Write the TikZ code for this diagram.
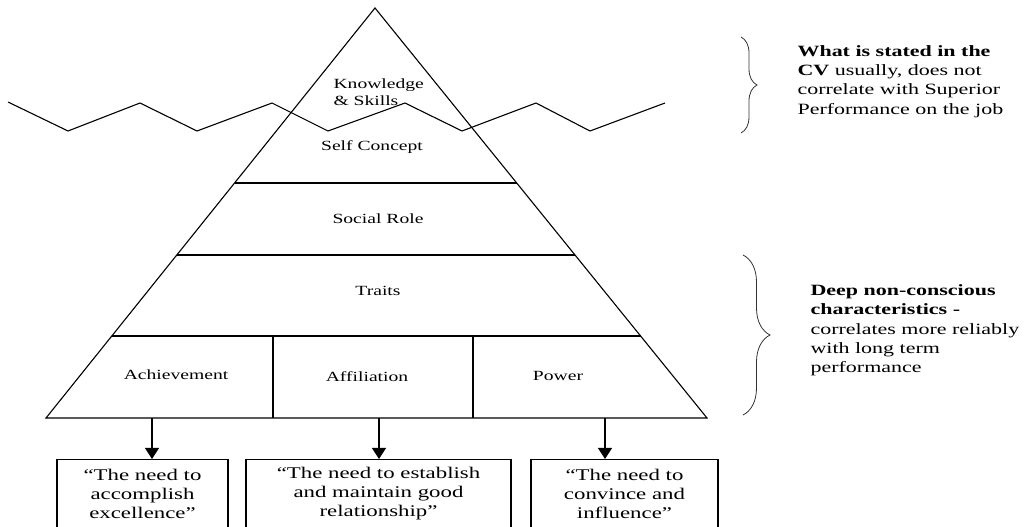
\documentclass[tikz,border=0pt]{standalone}
\usepackage{fontspec}
\setmainfont{Liberation Serif}[FakeStretch=1.4]
\usepackage{tikz}
\usetikzlibrary{arrows.meta,calc,decorations.pathreplacing}
\tikzset{
	lvl_txt/.style = {align=center, inner sep=0pt,
		font=\fontsize{14}{17}\selectfont},
	need_box/.style = {rectangle, draw=black, align=center, inner sep=0pt,
		minimum height=69pt, font=\fontsize{16.3}{19}\selectfont},
	side_txt/.style = {anchor=west, align=left, inner sep=0pt,
		font=\fontsize{15.7}{19.3}\selectfont},
	brc/.style = {decorate, line width=0.8pt, draw=black!80}
}

\begin{document}
\begin{tikzpicture}[x=1pt,y=-1pt,line width=1.1pt,
	>={Triangle[length=11pt,width=14pt]}]
\useasboundingbox (0,0) rectangle (1026,527);
% pyramid
\coordinate (top) at (375,8);
\coordinate (bl) at (46,418);
\coordinate (br) at (707,418);
\draw (bl) -- (top) -- (br) -- cycle;
\foreach \yy in {183,255,336}
	\draw ($(top)!{(\yy-8)/410}!(bl)$) -- ($(top)!{(\yy-8)/410}!(br)$);
\draw (273,336) -- (273,418);
\draw (473,336) -- (473,418);
% water line
\draw (8,102) -- (68,131) -- (140,103) -- (197,131) -- (272,103) -- (328,131)
	-- (405,103) -- (462,131) -- (536,103) -- (590,131) -- (665,103);
% levels
\node [lvl_txt, align=left, anchor=west] (ks) at (333,92) {Knowledge\\\& Skills};
\node [lvl_txt] (sc) at (372,147) {Self Concept};
\node [lvl_txt] (sr) at (378,219) {Social Role};
\node [lvl_txt] (tr) at (378,291) {Traits};
\node [lvl_txt] (ach) at (176,375) {Achievement};
\node [lvl_txt] (aff) at (367,377) {Affiliation};
\node [lvl_txt] (pow) at (558,376) {Power};
% needs
\coordinate (ach_b) at (152,418);
\coordinate (aff_b) at (379,418);
\coordinate (pow_b) at (605,418);
\node [need_box, minimum width=171pt] (need1) at (142.5,494)
	{``The need to\\accomplish\\excellence''};
\node [need_box, minimum width=265pt] (need2) at (378.5,494)
	{``The need to establish\\and maintain good\\relationship''};
\node [need_box, minimum width=187pt] (need3) at (624.5,494)
	{``The need to\\convince and\\influence''};
\draw [->] (ach_b) -- (ach_b |- need1.north);
\draw [->] (aff_b) -- (aff_b |- need2.north);
\draw [->] (pow_b) -- (pow_b |- need3.north);
% braces
\coordinate (b1t) at (741,37);
\coordinate (b1b) at (741,133);
\coordinate (b2t) at (743,255);
\coordinate (b2b) at (743,415);
\draw [brc, decoration={brace, amplitude=16pt}] (b1t) -- (b1b);
\draw [brc, decoration={brace, amplitude=27pt}] (b2t) -- (b2b);
\node [side_txt] (cv) at (797,81.5)
	{\textbf{What is stated in the}\\\textbf{CV} usually, does not\\correlate with Superior\\Performance on the job};
\node [side_txt] (deep) at (810,330.5)
	{\textbf{Deep non-conscious}\\\textbf{characteristics -}\\correlates more reliably\\with long term\\performance};
\end{tikzpicture}
\end{document}
